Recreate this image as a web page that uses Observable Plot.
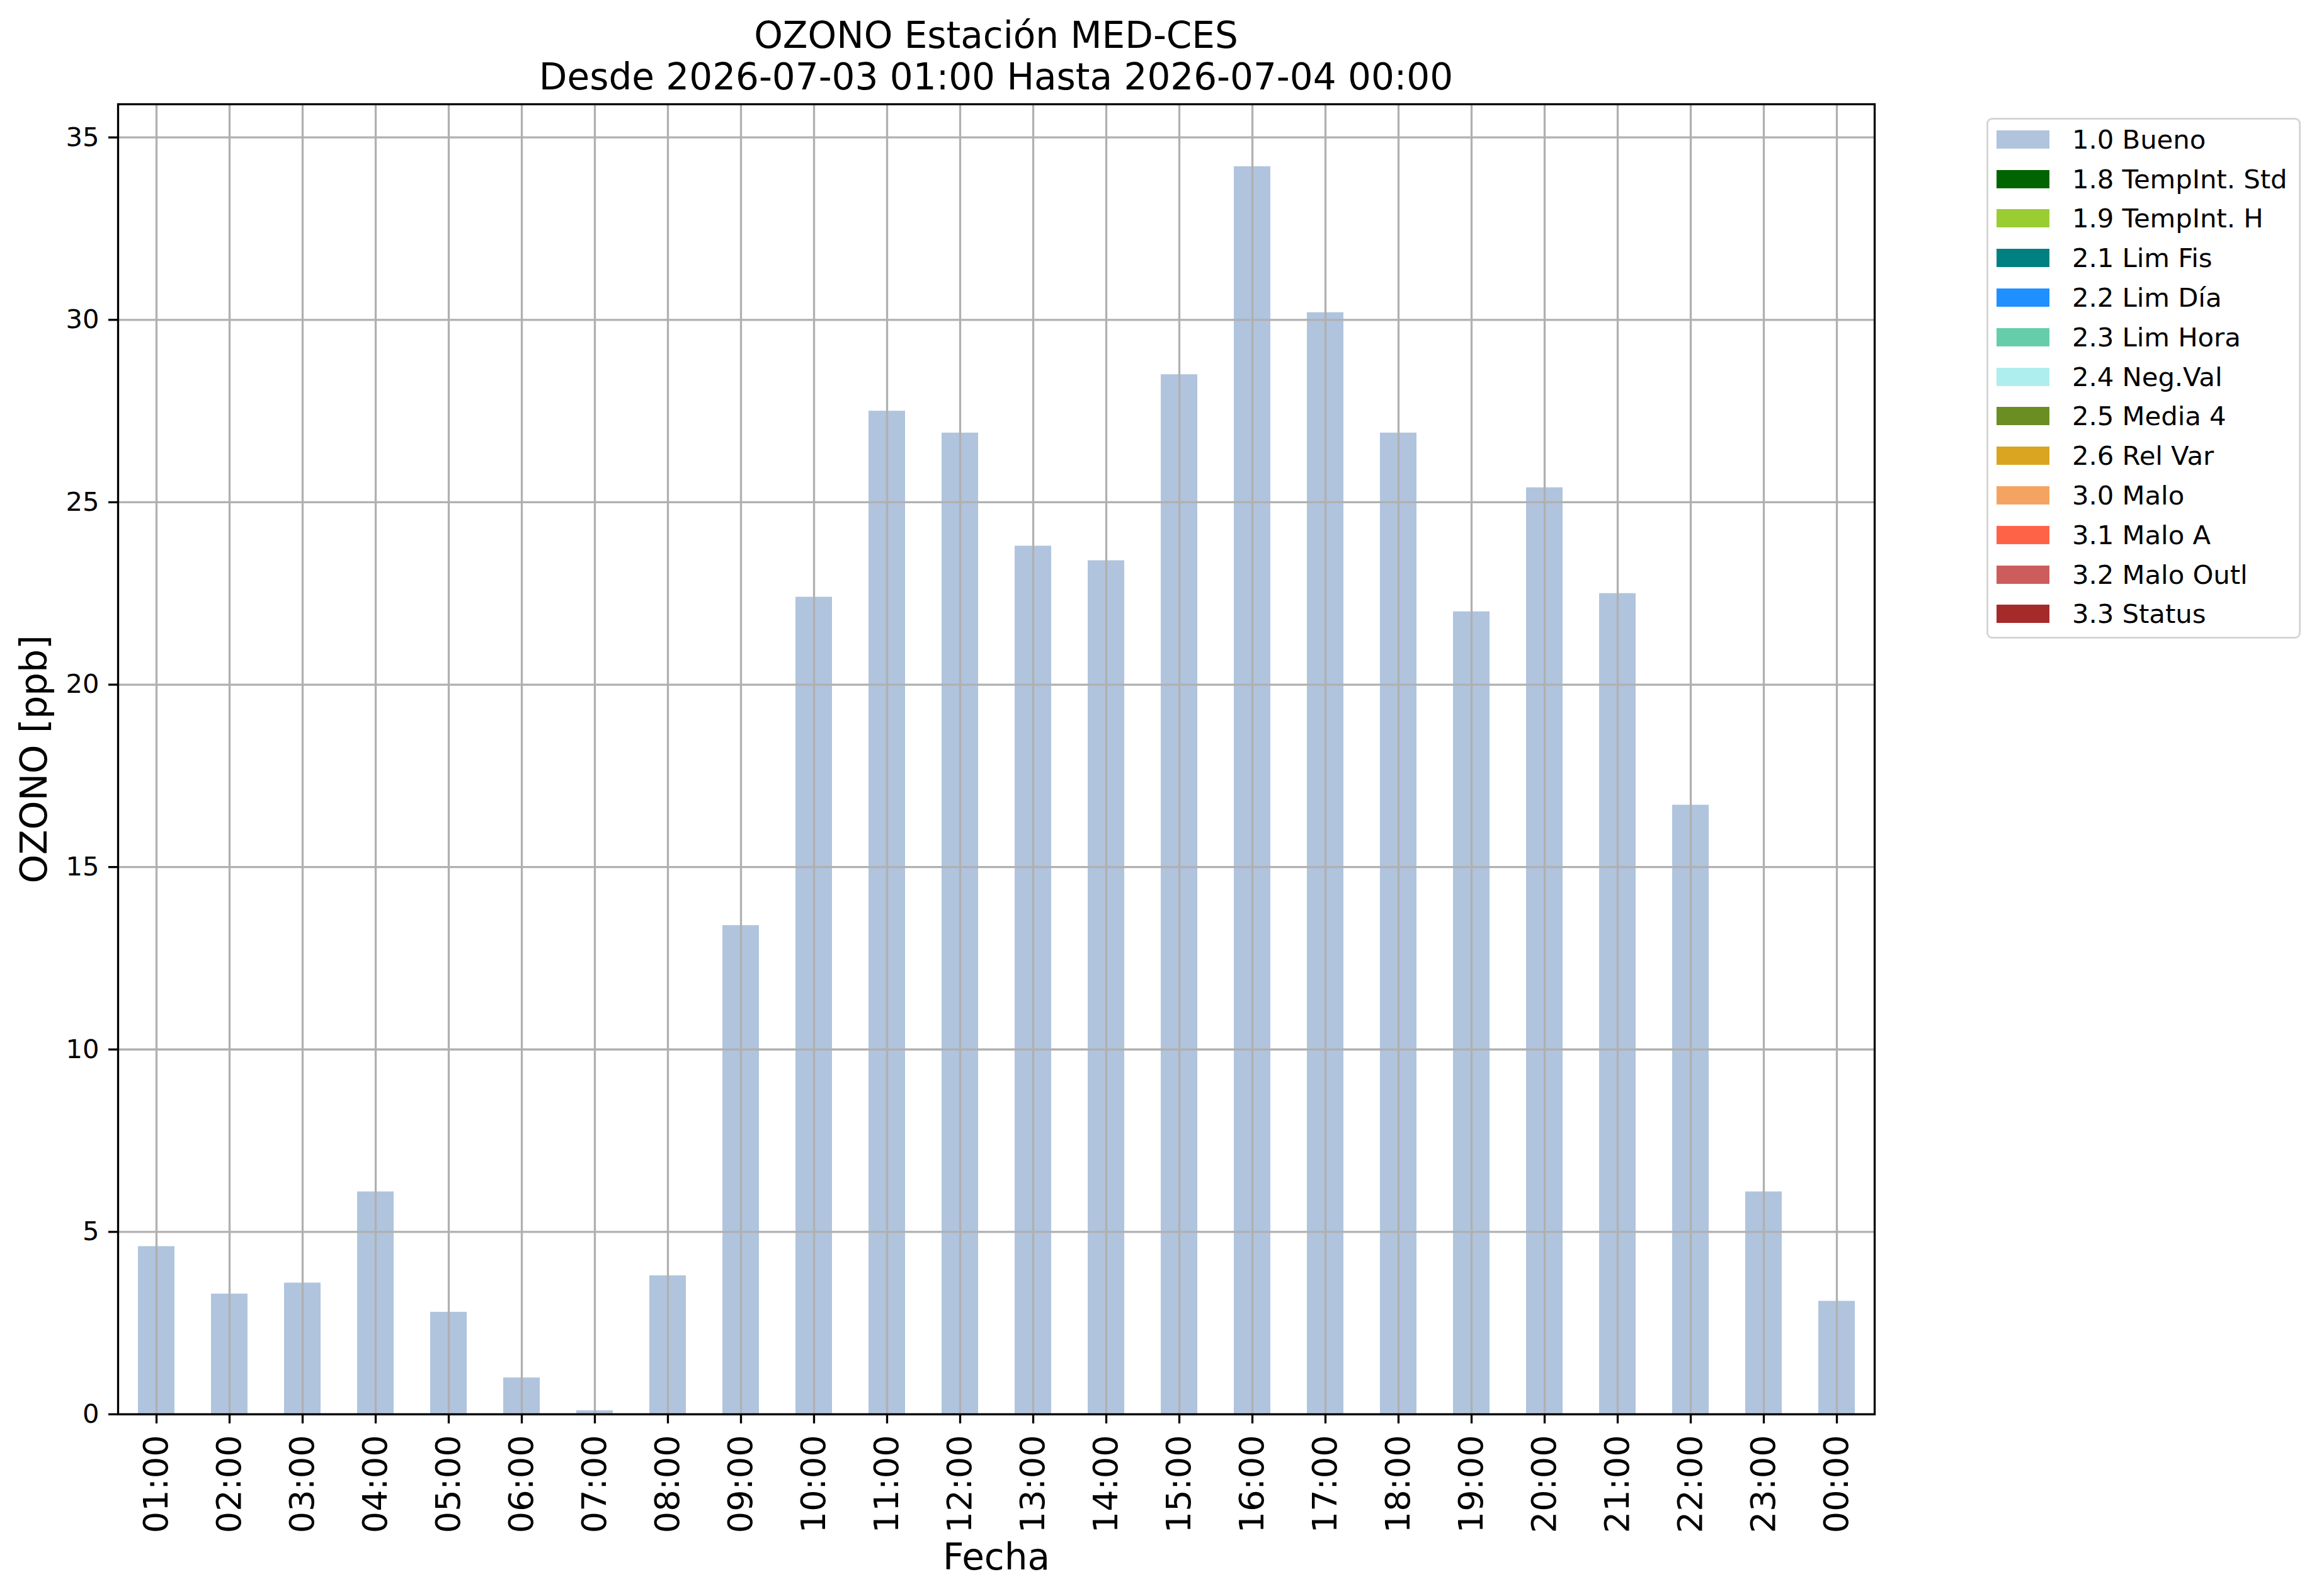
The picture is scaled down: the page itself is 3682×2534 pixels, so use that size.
<!DOCTYPE html>
<html>
<head>
<meta charset="utf-8">
<script src="https://cdn.jsdelivr.net/npm/d3@7"></script>
<script src="https://cdn.jsdelivr.net/npm/@observablehq/plot@0.6"></script>
<style>
  html, body { margin: 0; padding: 0; background: #fff; }
  #chart { position: relative; width: 3682px; height: 2534px; font-family: "DejaVu Sans", sans-serif; color: #000; overflow: hidden; }
  #chart svg { position: absolute; left: 0; top: 0; }
  #title { position: absolute; left: 187px; width: 2789px; top: 23px; text-align: center; font-size: 58px; line-height: 66px; white-space: nowrap; }
  #legend { position: absolute; left: 3154px; top: 187px; width: 493px; height: 821px; border: 3px solid #d6d6d6; border-radius: 9px; background: #fff; box-sizing: content-box; }
  .row { display: flex; align-items: center; height: 62.8px; }
  .sw { width: 84px; height: 29px; margin-left: 13px; margin-right: 36px; flex: none; }
  .lb { font-size: 41.7px; white-space: nowrap; }
</style>
</head>
<body>
<div id="chart">
  <div id="title"></div>
  <div id="legend"></div>
</div>
<script>
// ---- data ----
const hours = ["01:00","02:00","03:00","04:00","05:00","06:00","07:00","08:00","09:00","10:00","11:00","12:00",
               "13:00","14:00","15:00","16:00","17:00","18:00","19:00","20:00","21:00","22:00","23:00","00:00"];
const ozone = [4.6, 3.3, 3.6, 6.1, 2.8, 1.0, 0.1, 3.8, 13.4, 22.4, 27.5, 26.9,
               23.8, 23.4, 28.5, 34.2, 30.2, 26.9, 22.0, 25.4, 22.5, 16.7, 6.1, 3.1];
const yTicks = [0, 5, 10, 15, 20, 25, 30, 35];
const legendLabels = ["1.0 Bueno","1.8 TempInt. Std","1.9 TempInt. H","2.1 Lim Fis","2.2 Lim Día","2.3 Lim Hora",
                      "2.4 Neg.Val","2.5 Media 4","2.6 Rel Var","3.0 Malo","3.1 Malo A","3.2 Malo Outl","3.3 Status"];
const legendColors = ["#B0C4DE","#006400","#9ACD32","#008080","#1E90FF","#66CDAA",
                      "#AFEEEE","#6B8E23","#DAA520","#F4A460","#FF6347","#CD5C5C","#A52A2A"];
const titleLines = ["OZONO Estación MED-CES", "Desde 2026-07-03 01:00 Hasta 2026-07-04 00:00"];
const yLabel = "OZONO [ppb]";
const xLabel = "Fecha";

// ---- chart ----
const data = hours.map((h, i) => ({hour: h, value: ozone[i]}));
const gridColor = "#b0b0b0";
const lw = 3.3;

const svg = Plot.plot({
  width: 3682,
  height: 2534,
  marginLeft: 187,
  marginRight: 706,
  marginTop: 165,
  marginBottom: 289,
  style: {fontFamily: "DejaVu Sans", background: "white", color: "black"},
  x: {type: "band", domain: hours, paddingInner: 0.5, paddingOuter: 0.25, align: 0.5, label: null},
  y: {domain: [0, d3.max(ozone) * 1.05], label: null},
  marks: [
    Plot.barY(data, {x: "hour", y: "value", fill: legendColors[0]}),
    Plot.gridX({stroke: gridColor, strokeOpacity: 1, strokeWidth: lw}),
    Plot.gridY(yTicks, {stroke: gridColor, strokeOpacity: 1, strokeWidth: lw}),
    Plot.frame({stroke: "black", strokeWidth: lw}),
    Plot.axisX({tickRotate: -90, fontSize: 54, tickSize: 15, tickPadding: 18, strokeWidth: lw, label: null}),
    Plot.axisY(yTicks, {fontSize: 41.7, tickSize: 15, tickPadding: 15, strokeWidth: lw, label: null, tickFormat: d => String(d)}),
    Plot.text([yLabel], {text: d => d, frameAnchor: "left", textAnchor: "middle", lineAnchor: "middle", rotate: -90, dx: -132, fontSize: 58}),
    Plot.text([xLabel], {text: d => d, frameAnchor: "bottom", lineAnchor: "bottom", dy: 246, fontSize: 58})
  ]
});
document.getElementById("chart").insertBefore(svg, document.getElementById("title"));

// ---- title ----
const title = document.getElementById("title");
titleLines.forEach(t => { const d = document.createElement("div"); d.textContent = t; title.appendChild(d); });

// ---- legend ----
const legend = document.getElementById("legend");
legendLabels.forEach((lab, i) => {
  const row = document.createElement("div"); row.className = "row";
  const sw = document.createElement("div"); sw.className = "sw"; sw.style.background = legendColors[i];
  const lb = document.createElement("div"); lb.className = "lb"; lb.textContent = lab;
  row.appendChild(sw); row.appendChild(lb); legend.appendChild(row);
});
</script>
</body>
</html>
